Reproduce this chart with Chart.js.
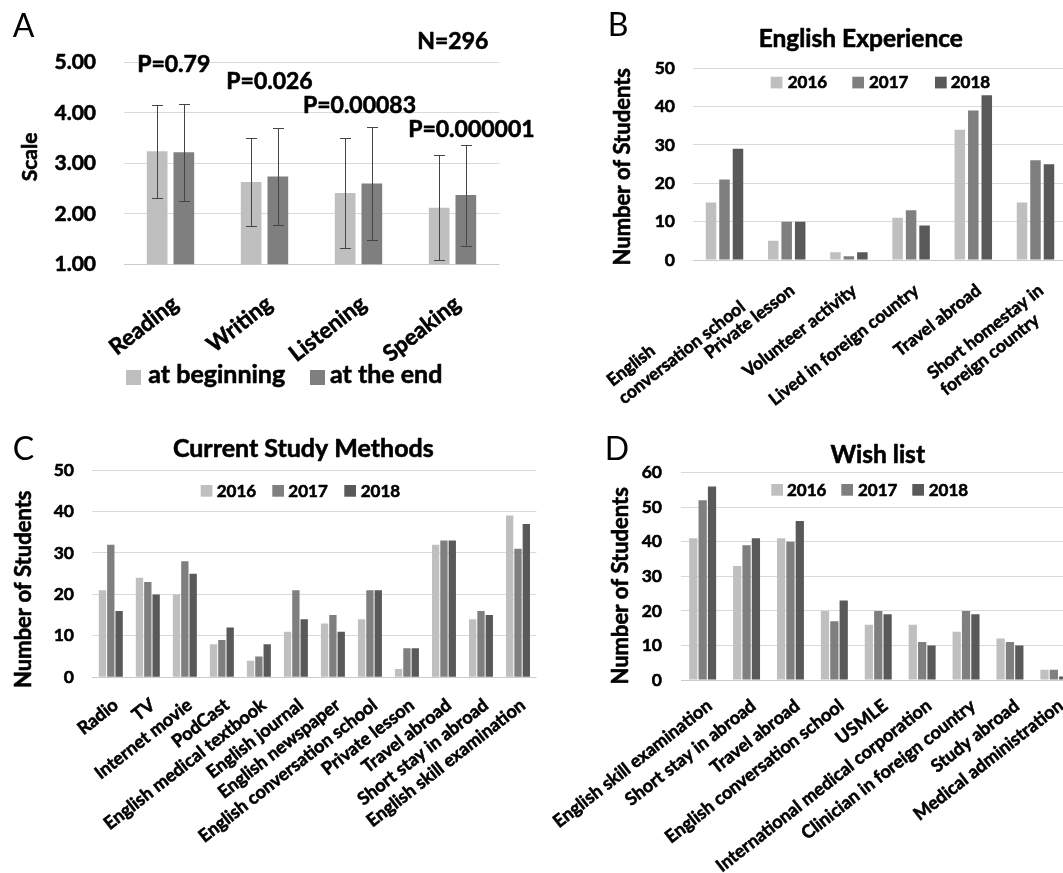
<!DOCTYPE html>
<html>
<head>
<meta charset="utf-8">
<script src="https://cdn.jsdelivr.net/npm/chart.js@4.4.1/dist/chart.umd.min.js"></script>
<style>
html,body{margin:0;padding:0;background:#fff;overflow:hidden;width:1063px;height:873px;position:relative;}
canvas{position:absolute;}
</style>
</head>
<body>
<canvas id="cA"></canvas>
<canvas id="cB"></canvas>
<canvas id="cC"></canvas>
<canvas id="cD"></canvas>
<script>
// ================= DATA =================
// Panel A : self-rated skills (mean and SD)
const skillCategories = ['Reading', 'Writing', 'Listening', 'Speaking'];
const skillSeries = ['at beginning', 'at the end'];
const skillBeginMean = [3.24, 2.63, 2.41, 2.12];
const skillBeginSD   = [0.92, 0.88, 1.09, 1.04];
const skillEndMean   = [3.22, 2.74, 2.60, 2.37];
const skillEndSD     = [0.96, 0.96, 1.11, 1.00];
const skillPValues   = ['P=0.79', 'P=0.026', 'P=0.00083', 'P=0.000001'];
const sampleSizeLabel = 'N=296';
const skillAxis = { min: 1, max: 5, step: 1 };

// Panels B, C, D : yearly counts
const years = ['2016', '2017', '2018'];

const experienceTitle = 'English Experience';
const experienceCategories = [['English', 'conversation school'], 'Private lesson', 'Volunteer activity',
  'Lived in foreign country', 'Travel abroad', ['Short homestay in', 'foreign country']];
const experience2016 = [15, 5, 2, 11, 34, 15];
const experience2017 = [21, 10, 1, 13, 39, 26];
const experience2018 = [29, 10, 2, 9, 43, 25];
const experienceAxis = { min: 0, max: 50, step: 10 };

const methodsTitle = 'Current Study Methods';
const methodCategories = ['Radio', 'TV', 'Internet movie', 'PodCast', 'English medical textbook', 'English journal',
  'English newspaper', 'English conversation school', 'Private lesson', 'Travel abroad', 'Short stay in abroad',
  'English skill examination'];
const methods2016 = [21, 24, 20, 8, 4, 11, 13, 14, 2, 32, 14, 39];
const methods2017 = [32, 23, 28, 9, 5, 21, 15, 21, 7, 33, 16, 31];
const methods2018 = [16, 20, 25, 12, 8, 14, 11, 21, 7, 33, 15, 37];
const methodsAxis = { min: 0, max: 50, step: 10 };

const wishTitle = 'Wish list';
const wishCategories = ['English skill examination', 'Short stay in abroad', 'Travel abroad',
  'English conversation school', 'USMLE', 'International medical corporation', 'Clinician in foreign country',
  'Study abroad', 'Medical administration'];
const wish2016 = [41, 33, 41, 20, 16, 16, 14, 12, 3];
const wish2017 = [52, 39, 40, 17, 20, 11, 20, 11, 3];
const wish2018 = [56, 41, 46, 23, 19, 10, 19, 10, 1];
const wishAxis = { min: 0, max: 60, step: 10 };

const countAxisTitle = 'Number of Students';
const skillAxisTitle = 'Scale';

// ================= STYLE / LAYOUT =================
const FONT = 'Lato, "Open Sans", "DejaVu Sans", sans-serif';
const C_LIGHT = '#bfbfbf', C_MID = '#7f7f7f', C_DARK = '#595959';
const GRID = '#d9d9d9', GRID_BASE = '#cbcbcb';
const STROKE_W = 0.6;   // slight emboldening to approach the heavy bold of the original

Chart.defaults.font.family = FONT;
Chart.defaults.color = '#000';

function fnt(size, weight) { return (weight || 'bold') + ' ' + size + 'px ' + FONT; }

function padLinesLeft(label, font) {
  if (!Array.isArray(label)) return label;
  const c = document.createElement('canvas').getContext('2d');
  c.font = font;
  const w = Math.max(...label.map(l => c.measureText(l).width));
  return label.map(l => { let s = l; while (c.measureText(s + ' ').width <= w + 1) s += ' '; return s; });
}

function decorPlugin(canvasBox, decor) {
  return {
    id: 'panelDecor',
    afterDraw(chart) {
      const ctx = chart.ctx, ox = canvasBox.left, oy = canvasBox.top;
      ctx.save();
      ctx.lineJoin = 'round';
      decor.texts.forEach(t => {
        ctx.save();
        ctx.font = t.font; ctx.fillStyle = '#000'; ctx.strokeStyle = '#000';
        ctx.textAlign = t.align || 'left';
        ctx.textBaseline = t.baseline || 'alphabetic';
        ctx.translate(t.x - ox, t.y - oy);
        if (t.rotate) ctx.rotate(t.rotate * Math.PI / 180);
        ctx.fillText(t.text, 0, 0);
        if (!t.thin) { ctx.lineWidth = STROKE_W; ctx.strokeText(t.text, 0, 0); }
        ctx.restore();
      });
      const L = decor.legend;
      if (L) {
        chart.data.datasets.forEach((ds, i) => {
          ctx.fillStyle = ds.backgroundColor;
          ctx.fillRect(L.boxX[i] - ox, L.boxY - oy, L.size, L.size);
          ctx.fillStyle = '#000'; ctx.strokeStyle = '#000'; ctx.lineWidth = STROKE_W; ctx.font = L.font;
          ctx.textAlign = 'left'; ctx.textBaseline = 'alphabetic';
          ctx.fillText(ds.label, L.textX[i] - ox, L.textY - oy);
          ctx.strokeText(ds.label, L.textX[i] - ox, L.textY - oy);
        });
      }
      ctx.restore();
    }
  };
}

function errorBarPlugin(sdSets) {
  return {
    id: 'errorBars',
    afterDatasetsDraw(chart) {
      const ctx = chart.ctx, ys = chart.scales.y;
      ctx.save();
      ctx.strokeStyle = '#454545'; ctx.lineWidth = 1;
      chart.data.datasets.forEach((ds, di) => {
        chart.getDatasetMeta(di).data.forEach((bar, i) => {
          const m = ds.data[i], sd = sdSets[di][i];
          const x = Math.round(bar.x) + 0.5;
          const yt = Math.round(ys.getPixelForValue(m + sd)) + 0.5;
          const yb = Math.round(ys.getPixelForValue(m - sd)) + 0.5;
          ctx.beginPath();
          ctx.moveTo(x, yt); ctx.lineTo(x, yb);
          ctx.moveTo(x - 5.5, yt); ctx.lineTo(x + 5.5, yt);
          ctx.moveTo(x - 5.5, yb); ctx.lineTo(x + 5.5, yb);
          ctx.stroke();
        });
      });
      ctx.restore();
    }
  };
}

function makePanel(id, p) {
  const cv = document.getElementById(id);
  cv.width = p.canvas.width; cv.height = p.canvas.height;
  cv.style.left = p.canvas.left + 'px'; cv.style.top = p.canvas.top + 'px';
  cv.style.width = p.canvas.width + 'px'; cv.style.height = p.canvas.height + 'px';
  const yW = p.area.left - p.canvas.left;
  const xH = p.canvas.top + p.canvas.height - p.area.bottom;
  const xFont = fnt(p.xFontSize);
  const labels = p.labels.map(l => padLinesLeft(l, xFont));
  const plugins = [decorPlugin(p.canvas, p.decor)];
  if (p.sd) plugins.push(errorBarPlugin(p.sd));
  return new Chart(cv, {
    type: 'bar',
    data: {
      labels: labels,
      datasets: p.series.map((s, i) => ({
        label: s.label, data: s.data, backgroundColor: s.color, borderWidth: 0,
        barPercentage: p.barPct, categoryPercentage: p.catPct
      }))
    },
    options: {
      responsive: false, animation: false, devicePixelRatio: 1,
      layout: { padding: {
        left: 0, top: p.area.top - p.canvas.top,
        right: p.canvas.left + p.canvas.width - p.area.right, bottom: 0 } },
      plugins: { legend: { display: false }, tooltip: { enabled: false }, title: { display: false } },
      scales: {
        x: {
          grid: { display: false, drawTicks: false },
          border: { display: false },
          ticks: { autoSkip: false, minRotation: p.rot, maxRotation: p.rot, padding: p.xPad,
                   labelOffset: p.xOff, font: { size: p.xFontSize, weight: 'bold' }, color: '#000',
                   textStrokeColor: '#000', textStrokeWidth: STROKE_W },
          afterFit: s => { s.height = xH; s.paddingLeft = 0; s.paddingRight = 0; }
        },
        y: {
          min: p.axis.min, max: p.axis.max,
          ticks: { stepSize: p.axis.step, padding: p.yPad, font: { size: p.yFontSize, weight: 'bold' },
                   color: '#000', textStrokeColor: '#000', textStrokeWidth: STROKE_W, callback: p.yFmt },
          grid: { drawTicks: false, lineWidth: 1,
                  color: c => (c.tick && c.tick.value === p.axis.min) ? GRID_BASE : GRID },
          border: { display: false },
          afterFit: s => { s.width = yW; s.paddingTop = 0; s.paddingBottom = 0; }
        }
      }
    },
    plugins: plugins
  });
}

function build() {
  // ---- Panel A ----
  makePanel('cA', {
    canvas: { left: 0, top: 0, width: 545, height: 415 },
    area: { left: 123.5, right: 499.5, top: 62.3, bottom: 264.3 },
    labels: skillCategories,
    series: [
      { label: skillSeries[0], data: skillBeginMean, color: C_LIGHT },
      { label: skillSeries[1], data: skillEndMean, color: C_MID }
    ],
    sd: [skillBeginSD, skillEndSD],
    axis: skillAxis, yFmt: v => Number(v).toFixed(2),
    barPct: 0.775, catPct: 0.568,
    rot: 38, xPad: 26, xOff: 5, xFontSize: 22.5, yFontSize: 21, yPad: 27.5,
    decor: {
      texts: [
        { text: 'A', x: 12.7, y: 36.7, font: fnt(32, 'normal'), thin: true },
        { text: skillPValues[0], x: 173.7, y: 71.7, font: fnt(23), align: 'center' },
        { text: skillPValues[1], x: 269.5, y: 89.3, font: fnt(23), align: 'center' },
        { text: skillPValues[2], x: 359.5, y: 112.7, font: fnt(23), align: 'center' },
        { text: skillPValues[3], x: 471.4, y: 137.3, font: fnt(23), align: 'center' },
        { text: sampleSizeLabel, x: 452.8, y: 49, font: fnt(23), align: 'center' },
        { text: skillAxisTitle, x: 30.5, y: 157, font: fnt(21), align: 'center', baseline: 'middle', rotate: -90 }
      ],
      legend: { size: 15, boxY: 370, boxX: [126, 310], textX: [148.3, 330], textY: 383, font: fnt(25) }
    }
  });

  // ---- Panel B ----
  makePanel('cB', {
    canvas: { left: 545, top: 0, width: 540, height: 415 },
    area: { left: 693.4, right: 1066.6, top: 68.3, bottom: 260 },
    labels: experienceCategories,
    series: [
      { label: years[0], data: experience2016, color: C_LIGHT },
      { label: years[1], data: experience2017, color: C_MID },
      { label: years[2], data: experience2018, color: C_DARK }
    ],
    axis: experienceAxis, yFmt: v => v,
    barPct: 0.78, catPct: 0.65,
    rot: 38, xPad: 20, xOff: 5.5, xFontSize: 17.5, yFontSize: 17.5, yPad: 18.4,
    decor: {
      texts: [
        { text: 'B', x: 607.7, y: 35.7, font: fnt(32, 'normal'), thin: true },
        { text: experienceTitle, x: 860.8, y: 46.7, font: fnt(24.5), align: 'center' },
        { text: countAxisTitle, x: 623.3, y: 166.7, font: fnt(22), align: 'center', baseline: 'middle', rotate: -90 }
      ],
      legend: { size: 11.7, boxY: 76.7, boxX: [770.7, 852.3, 935], textX: [787.7, 869, 950.7], textY: 88.3, font: fnt(17) }
    }
  });

  // ---- Panel C ----
  makePanel('cC', {
    canvas: { left: 0, top: 415, width: 545, height: 458 },
    area: { left: 92.3, right: 536.5, top: 470, bottom: 677.3 },
    labels: methodCategories,
    series: [
      { label: years[0], data: methods2016, color: C_LIGHT },
      { label: years[1], data: methods2017, color: C_MID },
      { label: years[2], data: methods2018, color: C_DARK }
    ],
    axis: methodsAxis, yFmt: v => v,
    barPct: 0.88, catPct: 0.675,
    rot: 38, xPad: 17, xOff: 5, xFontSize: 18, yFontSize: 17.5, yPad: 18.3,
    decor: {
      texts: [
        { text: 'C', x: 12.7, y: 460, font: fnt(32, 'normal'), thin: true },
        { text: methodsTitle, x: 303.3, y: 456.7, font: fnt(25), align: 'center' },
        { text: countAxisTitle, x: 24.2, y: 589.2, font: fnt(22), align: 'center', baseline: 'middle', rotate: -90 }
      ],
      legend: { size: 11.7, boxY: 485, boxX: [200.7, 272.3, 344.3], textX: [216.7, 288.3, 360.7], textY: 496.7, font: fnt(17) }
    }
  });

  // ---- Panel D ----
  makePanel('cD', {
    canvas: { left: 530, top: 415, width: 555, height: 458 },
    area: { left: 680.7, right: 1075.8, top: 472.7, bottom: 680 },
    labels: wishCategories,
    series: [
      { label: years[0], data: wish2016, color: C_LIGHT },
      { label: years[1], data: wish2017, color: C_MID },
      { label: years[2], data: wish2018, color: C_DARK }
    ],
    axis: wishAxis, yFmt: v => v,
    barPct: 0.88, catPct: 0.64,
    rot: 38, xPad: 15, xOff: 7, xFontSize: 18, yFontSize: 17.5, yPad: 18.7,
    decor: {
      texts: [
        { text: 'D', x: 604.7, y: 460, font: fnt(32, 'normal'), thin: true },
        { text: wishTitle, x: 877.7, y: 462.7, font: fnt(24.5), align: 'center' },
        { text: countAxisTitle, x: 621.3, y: 585.8, font: fnt(22), align: 'center', baseline: 'middle', rotate: -90 }
      ],
      legend: { size: 11.7, boxY: 484, boxX: [771.3, 841.3, 912.3], textX: [787, 858, 928.7], textY: 495.7, font: fnt(17) }
    }
  });
}

if (document.fonts && document.fonts.load) {
  Promise.all([document.fonts.load('bold 16px Lato'), document.fonts.load('16px Lato')]).then(build, build);
} else { build(); }
</script>
</body>
</html>
